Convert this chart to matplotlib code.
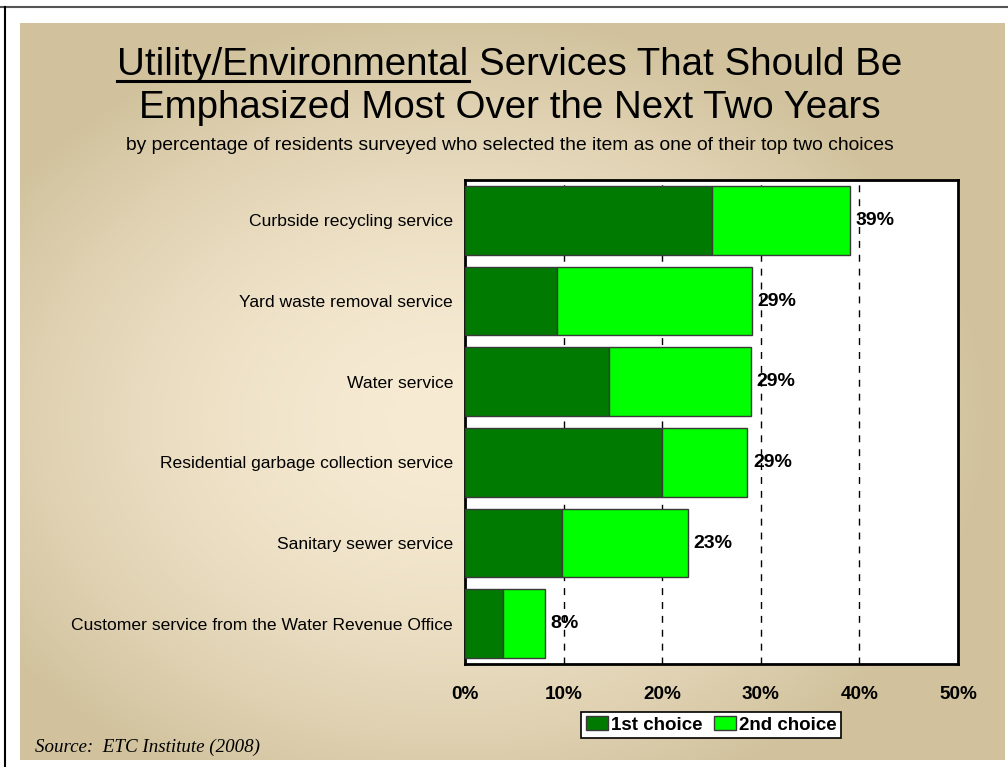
import matplotlib.pyplot as plt
import numpy as np
from matplotlib.patches import Patch
from matplotlib.lines import Line2D

plt.rcParams['font.family'] = ['Liberation Sans', 'DejaVu Sans']

# survey results (percent of residents)
categories = [
    "Curbside recycling service",
    "Yard waste removal service",
    "Water service",
    "Residential garbage collection service",
    "Sanitary sewer service",
    "Customer service from the Water Revenue Office",
]
first_choice = [25.1, 9.3, 14.6, 20.0, 9.8, 3.9]
second_choice = [13.9, 19.8, 14.4, 8.6, 12.8, 4.2]
tick_values = [0, 10, 20, 30, 40, 50]
tick_labels = ["0%", "10%", "20%", "30%", "40%", "50%"]

W, H = 1008, 767
fig = plt.figure(figsize=(W / 100, H / 100), dpi=100, facecolor="white")

# tan slide background with a soft radial highlight
bx0, by0, bx1, by1 = 20, 23, 1005, 760
bg = fig.add_axes([bx0 / W, 1 - by1 / H, (bx1 - bx0) / W, (by1 - by0) / H], zorder=0)
gx, gy = np.meshgrid(np.arange(bx0, bx1), np.arange(by0, by1))
r = np.sqrt(((gx - 450) / 540.0) ** 2 + ((gy - 420) / 410.0) ** 2)
t = np.clip(r, 0, 1) ** 1.7
c_mid = np.array([247, 235, 212]) / 255
c_edge = np.array([209, 194, 157]) / 255
img = c_mid[None, None, :] + (c_edge - c_mid)[None, None, :] * t[..., None]
bg.imshow(img, aspect="auto", interpolation="bilinear")
bg.axis("off")

# slide frame lines
fig.add_artist(Line2D([0, 1], [1 - 7 / H, 1 - 7 / H], color="#555555", lw=1.5, transform=fig.transFigure))
fig.add_artist(Line2D([5 / W, 5 / W], [0, 1 - 7 / H], color="black", lw=1.5, transform=fig.transFigure))

# title, first half underlined
cx = 510 / W
line1 = "Utility/Environmental Services That Should Be"
underlined = "Utility/Environmental"
title_size = 27.7
t1 = fig.text(cx, 1 - 75 / H, line1, ha="center", va="baseline", fontsize=title_size, zorder=5)
fig.text(cx, 1 - 118 / H, "Emphasized Most Over the Next Two Years",
         ha="center", va="baseline", fontsize=title_size, zorder=5)
fig.text(cx, 1 - 145 / H,
         "by percentage of residents surveyed who selected the item as one of their top two choices",
         ha="center", va="center", fontsize=13.9, zorder=5)

renderer = fig.canvas.get_renderer()
full_bb = t1.get_window_extent(renderer)
tmp = fig.text(0, 0, underlined, fontsize=title_size)
part_w = tmp.get_window_extent(renderer).width
tmp.remove()
uy = 1 - 80.5 / H
fig.add_artist(Line2D([full_bb.x0 / W, (full_bb.x0 + part_w) / W], [uy, uy],
                      color="black", lw=2.2, transform=fig.transFigure, zorder=5))

# bar chart
ax = fig.add_axes([465 / W, 1 - 664 / H, (958 - 465) / W, (664 - 180) / H], zorder=2)
ax.set_facecolor("white")
y = np.arange(len(categories))
totals = np.array(first_choice) + np.array(second_choice)

ax.barh(y, first_choice, height=0.85, color="#007A00", edgecolor="#3a3a3a", lw=1, zorder=3)
ax.barh(y, second_choice, left=first_choice, height=0.85, color="#00FF00",
        edgecolor="#3a3a3a", lw=1, zorder=3)
for yi, tot in zip(y, totals):
    ax.text(tot + 0.6, yi, f"{tot:.0f}%", va="center", ha="left",
            fontsize=14, fontweight="bold", zorder=4)

ax.set_xlim(0, 50)
ax.set_ylim(len(categories) - 0.5, -0.5)
ax.set_xticks(tick_values)
ax.set_xticklabels(tick_labels, fontsize=13.6, fontweight="bold")
ax.set_yticks(y)
ax.set_yticklabels(categories, fontsize=12.6)
ax.tick_params(axis="both", length=0)
ax.tick_params(axis="x", pad=16)
ax.tick_params(axis="y", pad=8.6)
for v in tick_values[1:-1]:
    ax.axvline(v, color="black", lw=1, ls=(0, (5, 5)), zorder=1)
for s in ax.spines.values():
    s.set_linewidth(2)
    s.set_color("black")

handles = [Patch(facecolor="#007A00", edgecolor="#3a3a3a", label="1st choice"),
           Patch(facecolor="#00FF00", edgecolor="#3a3a3a", label="2nd choice")]
leg = fig.legend(handles=handles, loc="center", bbox_to_anchor=(711 / W, 1 - 725 / H), ncol=2,
                 frameon=True, fancybox=False, edgecolor="black", framealpha=1,
                 prop={"size": 13.5, "weight": "bold"}, handlelength=1.2, handleheight=0.7,
                 handletextpad=0.15, columnspacing=0.6, borderpad=0.25)
leg.get_frame().set_linewidth(1.2)
leg.set_zorder(6)

fig.text(35 / W, 1 - 747 / H, "Source:  ETC Institute (2008)", ha="left", va="center",
         fontsize=13.7, style="italic", family=["Liberation Serif", "DejaVu Serif"], zorder=5)

fig.savefig("out.png", dpi=100, facecolor="white")
